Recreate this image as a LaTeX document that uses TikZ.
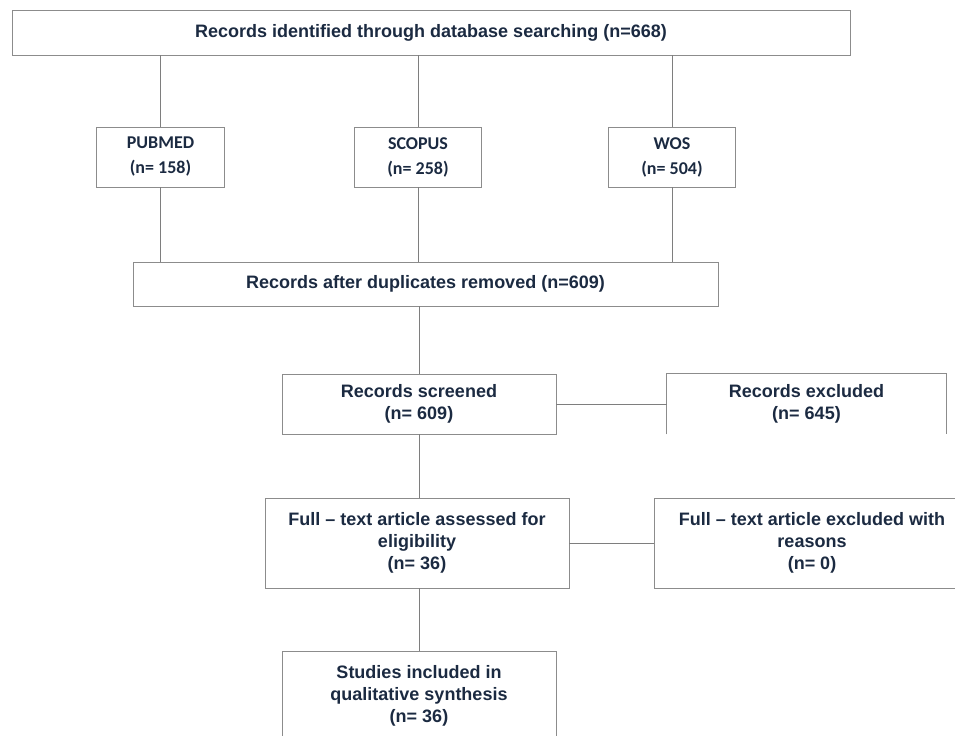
\documentclass[tikz,border=0pt]{standalone}
\usepackage{fontspec}
\setmainfont{Liberation Sans}
\newfontfamily\calibri{Carlito}
\usepackage{tikz}
\definecolor{navy}{HTML}{1B2A41}
\definecolor{rule}{HTML}{8C8C8C}

\begin{document}
\begin{tikzpicture}[x=0.75pt, y=-0.75pt, line width=0.6pt,
    box/.style = {draw=rule, align=center, text=navy, inner sep=0pt,
      font=\bfseries\fontsize{13.5}{16.5}\selectfont},
    src/.style = {box, minimum width=95.5pt, minimum height=45pt,
      font=\calibri\bfseries\fontsize{13.5}{18.75}\selectfont},
    link/.style = {draw=rule!90!black}]
  \useasboundingbox (0,0) rectangle (955,735);
  \clip (0,0) rectangle (955,735);

  \node[box, minimum width=628.5pt, minimum height=33.75pt] (a) at (431,32.5)
    {Records identified through database searching (n=668)};
  \node[src] (b) at (160.5,157) {PUBMED\\(n= 158)};
  \node[src] (c) at (418,157) {SCOPUS\\(n= 258)};
  \node[src] (d) at (672,157) {WOS\\(n= 504)};
  \node[box, minimum width=438.75pt, minimum height=33pt] (e) at (425.5,284)
    {Records after duplicates removed (n=609)};
  \node[box, minimum width=205.5pt, minimum height=45pt] (f) at (419,404)
    {Records screened\\(n= 609)};
  \node[box, draw=none, minimum width=209.25pt, minimum height=45pt] (g) at (806.5,404)
    {Records excluded\\(n= 645)};
  \node[box, minimum width=228pt, minimum height=67.5pt] (h) at (417,543)
    {Full -- text article assessed for\\eligibility\\(n= 36)};
  \node[box, minimum width=237pt, minimum height=67.5pt] (i) at (812,543)
    {Full -- text article excluded with\\reasons\\(n= 0)};
  \node[box, minimum width=205.5pt, minimum height=67.5pt] (j) at (419,696)
    {Studies included in\\qualitative synthesis\\(n= 36)};

  % open box, no bottom edge
  \draw[rule] (g.south west) |- (g.north east) -- (g.south east);

  \draw[link] (b.north) -- (b.north |- a.south);
  \draw[link] (c.north) -- (c.north |- a.south);
  \draw[link] (d.north) -- (d.north |- a.south);
  \draw[link] (b.south) -- (b.south |- e.north);
  \draw[link] (c.south) -- (c.south |- e.north);
  \draw[link] (d.south) -- (d.south |- e.north);
  \draw[link] (f.north) -- (f.north |- e.south);
  \draw[link] (f.east) -- (g.west);
  \draw[link] (f.south) -- (f.south |- h.north);
  \draw[link] (h.east) -- (i.west);
  \draw[link] (j.north) -- (j.north |- h.south);
\end{tikzpicture}
\end{document}
